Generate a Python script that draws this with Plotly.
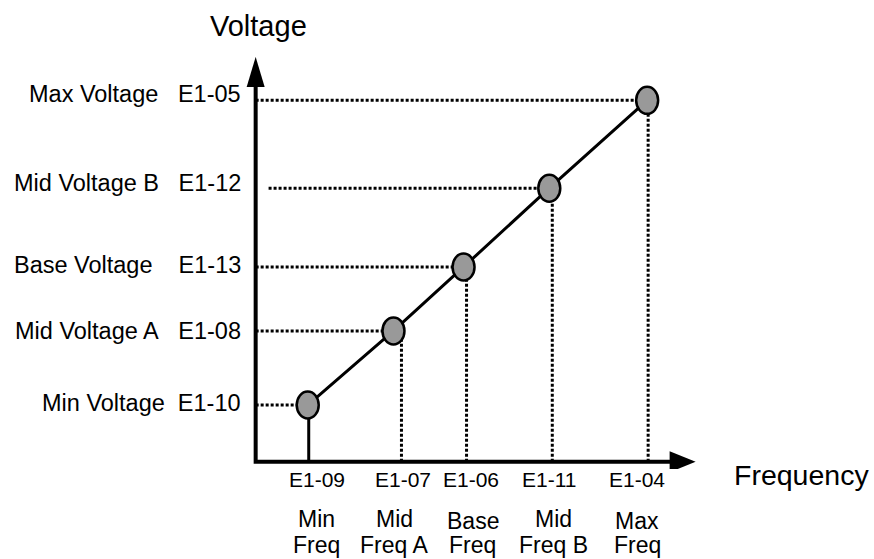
import plotly.graph_objects as go

# ---------------- data (relative units: max = 100) ----------------
point_names = ["Min", "Mid A", "Base", "Mid B", "Max"]
freq_vals = [13.3, 35.2, 53.1, 75.0, 100.0]
volt_vals = [15.7, 36.2, 53.9, 75.7, 100.0]

volt_names = ["Min Voltage", "Mid Voltage A", "Base Voltage", "Mid Voltage B", "Max Voltage"]
volt_codes = ["E1-10", "E1-08", "E1-13", "E1-12", "E1-05"]
freq_codes = ["E1-09", "E1-07", "E1-06", "E1-11", "E1-04"]
freq_top = ["Min", "Mid", "Base", "Mid", "Max"]
freq_bottom = ["Freq", "Freq A", "Freq", "Freq B", "Freq"]

x_title = "Frequency"
y_title = "Voltage"

# ---------------- styling ----------------
FONT = "Liberation Sans, Arial, Helvetica, sans-serif"
X_RANGE = [-4, 113.5]
Y_RANGE = [-2, 112]
X_AXIS_END = 106
Y_AXIS_END = 104
DOT = "3px,2px"
name_gap = [2, 3, 4, 3, 3]          # non-breaking spaces between name and code
label_dy = [2.5, 0, 2, 5, 6]         # vertical nudges of left labels (px)
code_dx = [9, 10, 7, 0, -10]         # label offsets (px)
name_dx = [9, 1, 9, 4, -10]
top_dy = [0, 0, -2, 0, -2]
drop_dx = [1, 8, 3, 3, 1]            # offset of drop lines from marker centre (px)
guide_start = [0, 0, 0, 3.3, 0]      # where horizontal guides begin (x units)

fig = go.Figure()

# V/f line
fig.add_trace(go.Scatter(
    x=freq_vals, y=volt_vals, mode="lines",
    line=dict(color="black", width=3),
    hoverinfo="skip", showlegend=False,
))

shapes = []
# guide lines
for i, (f, v) in enumerate(zip(freq_vals, volt_vals)):
    shapes.append(dict(type="line", xref="x", yref="y", x0=guide_start[i], x1=f, y0=v, y1=v,
                       line=dict(color="black", width=3, dash=DOT), layer="above"))
    shapes.append(dict(type="line", xref="x", yref="y", xsizemode="pixel", xanchor=f,
                       x0=drop_dx[i], x1=drop_dx[i], y0=0, y1=v,
                       line=dict(color="black", width=3,
                                 dash="solid" if i == 0 else DOT), layer="above"))

# axes
shapes.append(dict(type="path", xref="x", yref="y",
                   path=f"M 0,{Y_AXIS_END} L 0,0 L {X_AXIS_END},0",
                   line=dict(color="black", width=4), fillcolor="rgba(0,0,0,0)"))
shapes.append(dict(type="path", xref="x", yref="y", xsizemode="pixel", ysizemode="pixel",
                   xanchor=X_AXIS_END, yanchor=0,
                   path="M -1,-10.5 L 25,0 L -1,10.5 Z",
                   line=dict(width=0), fillcolor="black"))
shapes.append(dict(type="path", xref="x", yref="y", xsizemode="pixel", ysizemode="pixel",
                   xanchor=0, yanchor=Y_AXIS_END,
                   path="M -9,-1 L 0,29 L 9,-1 Z",
                   line=dict(width=0), fillcolor="black"))

# markers (ellipses)
for f, v in zip(freq_vals, volt_vals):
    shapes.append(dict(type="circle", xref="x", yref="y", xsizemode="pixel", ysizemode="pixel",
                       xanchor=f, yanchor=v, x0=-11, x1=11, y0=-13.5, y1=13.5,
                       fillcolor="#999999", line=dict(color="black", width=2.5)))

annotations = []
for i, v in enumerate(volt_vals):
    annotations.append(dict(
        xref="x", yref="y", x=0, y=v, xanchor="right", yanchor="middle",
        xshift=-13, yshift=label_dy[i],
        text=volt_names[i] + "\u00a0" * name_gap[i] + volt_codes[i],
        showarrow=False, font=dict(family=FONT, size=23.5, color="black")))

for i, f in enumerate(freq_vals):
    annotations.append(dict(
        xref="x", yref="y", x=f, y=0, xanchor="center", yanchor="middle",
        xshift=code_dx[i], yshift=-17.5, text=freq_codes[i], showarrow=False,
        font=dict(family=FONT, size=21, color="black")))
    annotations.append(dict(
        xref="x", yref="y", x=f, y=0, xanchor="center", yanchor="middle",
        xshift=name_dx[i], yshift=-57.5 + top_dy[i], text=freq_top[i], showarrow=False,
        font=dict(family=FONT, size=23, color="black")))
    annotations.append(dict(
        xref="x", yref="y", x=f, y=0, xanchor="center", yanchor="middle",
        xshift=name_dx[i], yshift=-83, text=freq_bottom[i], showarrow=False,
        font=dict(family=FONT, size=23, color="black")))

annotations.append(dict(
    xref="x", yref="y", x=0, y=Y_AXIS_END, xanchor="center", yanchor="middle",
    xshift=3, yshift=59.5, text=y_title, showarrow=False,
    font=dict(family=FONT, size=29, color="black")))
annotations.append(dict(
    xref="x", yref="y", x=X_AXIS_END, y=0, xanchor="left", yanchor="middle",
    xshift=61, yshift=-13, text=x_title, showarrow=False,
    font=dict(family=FONT, size=28.5, color="black")))

fig.update_layout(
    width=874, height=559,
    margin=dict(l=240, r=174, t=57, b=90, pad=0),
    paper_bgcolor="white", plot_bgcolor="white",
    xaxis=dict(range=X_RANGE, visible=False, fixedrange=True),
    yaxis=dict(range=Y_RANGE, visible=False, fixedrange=True),
    shapes=shapes, annotations=annotations, showlegend=False,
)

fig.write_html(
    "out.html",
    config={"displayModeBar": False},
    post_script="document.body.style.margin='0';document.body.style.overflow='hidden';",
)
